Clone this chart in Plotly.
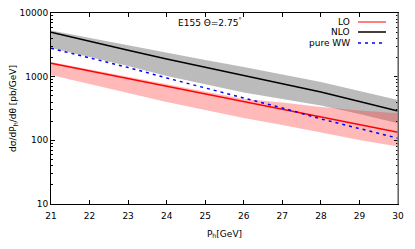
import plotly.graph_objects as go

P = [21, 22, 23, 24, 25, 26, 27, 28, 29, 30]

nlo = [4980, 3570, 2600, 1900, 1405, 1063, 782, 575, 408, 289]
nlo_hi = [5310, 4050, 3090, 2356, 1829, 1420, 1083, 826, 596, 431]
nlo_lo = [2822, 2039, 1472, 1026, 754, 565, 446, 353, 260, 186]

lo = [1623, 1229, 937, 715, 535, 408, 311, 233, 178, 134]
lo_hi = [1701, 1297, 989, 754, 575, 447, 394, 334, 295, 266]
lo_lo = [1063, 768, 555, 401, 300, 225, 174, 131, 101, 80]

pure_ww = [2791, 1966, 1395, 954, 665, 472, 323, 217, 154, 108]

FONT = "DejaVu Sans"

fig = go.Figure()

# NLO band
fig.add_trace(go.Scatter(x=P, y=nlo_hi, mode="lines", line=dict(width=0), showlegend=False, hoverinfo="skip"))
fig.add_trace(go.Scatter(x=P, y=nlo_lo, mode="lines", line=dict(width=0), fill="tonexty",
                         fillcolor="rgba(120,120,120,0.5)", showlegend=False, hoverinfo="skip"))
# LO band
fig.add_trace(go.Scatter(x=P, y=lo_hi, mode="lines", line=dict(width=0), showlegend=False, hoverinfo="skip"))
fig.add_trace(go.Scatter(x=P, y=lo_lo, mode="lines", line=dict(width=0), fill="tonexty",
                         fillcolor="rgba(255,60,60,0.36)", showlegend=False, hoverinfo="skip"))

fig.add_trace(go.Scatter(x=P, y=lo, mode="lines", line=dict(color="#ff0000", width=1.5), name="LO"))
fig.add_trace(go.Scatter(x=P, y=nlo, mode="lines", line=dict(color="#000000", width=1.5), name="NLO"))
fig.add_trace(go.Scatter(x=P, y=pure_ww, mode="lines", line=dict(color="#0000ff", width=1.5, dash="3px,4px"),
                         name="pure WW"))

minor_vals = [m * 10 ** e for e in range(1, 4) for m in range(2, 10)]

# page body has an 8px margin, so the figure is shrunk and offset accordingly
fig.update_layout(
    width=399, height=233,
    margin=dict(l=43, r=9, t=5, b=37),
    paper_bgcolor="white", plot_bgcolor="white",
    showlegend=False,
    font=dict(family=FONT, size=9, color="black"),
    xaxis=dict(
        range=[21, 30], tickvals=P, ticks="inside", ticklen=4, tickcolor="black",
        showline=True, linecolor="black", linewidth=1, mirror="allticks",
        showgrid=False, zeroline=False, automargin=False, ticklabelstandoff=3,
        title=dict(text="P<sub>h</sub>[GeV]", font=dict(family=FONT, size=9), standoff=10),
        tickfont=dict(family=FONT, size=9),
    ),
    yaxis=dict(
        type="log", range=[1, 4], tickvals=[10, 100, 1000, 10000],
        ticktext=["10", "100", "1000", "10000"],
        ticks="inside", ticklen=4, tickcolor="black",
        showline=True, linecolor="black", linewidth=1, mirror="allticks",
        showgrid=False, zeroline=False, automargin=False,
        minor=dict(tickmode="array", tickvals=minor_vals, ticks="inside", ticklen=2, tickcolor="black",
                   showgrid=False),
        title=dict(text="dσ/dP<sub>h</sub>/dθ [pb/GeV]", font=dict(family=FONT, size=9), standoff=7),
        tickfont=dict(family=FONT, size=9),
    ),
)

# right border in grey like the reference
fig.add_shape(type="line", xref="paper", yref="paper", x0=1, x1=1, y0=0, y1=1,
              line=dict(color="#888888", width=1.5))

# annotation
fig.add_annotation(text="E155 Θ=2.75<sup>°</sup>", xref="paper", yref="paper",
                   x=(210 - 51) / 347, y=1 - (22 - 13) / 191, showarrow=False,
                   font=dict(family=FONT, size=9), xanchor="center", yanchor="middle")

# manual legend (gnuplot-style: text left, sample right)
legend_items = [("LO", "#ff5555", "solid", 22), ("NLO", "#000000", "solid", 32), ("pure WW", "#0000ff", "3px,4px", 43)]
for label, col, dash, ypix in legend_items:
    yp = 1 - (ypix - 13) / 191
    fig.add_annotation(text=label, xref="paper", yref="paper", x=(352 - 51) / 347, y=yp,
                       showarrow=False, xanchor="right", yanchor="middle",
                       font=dict(family=FONT, size=9))
    fig.add_shape(type="line", xref="paper", yref="paper",
                  x0=(358 - 51) / 347, x1=(386 - 51) / 347, y0=yp, y1=yp,
                  line=dict(color=col, width=1.5, dash=dash))

fig.write_html("out.html")
